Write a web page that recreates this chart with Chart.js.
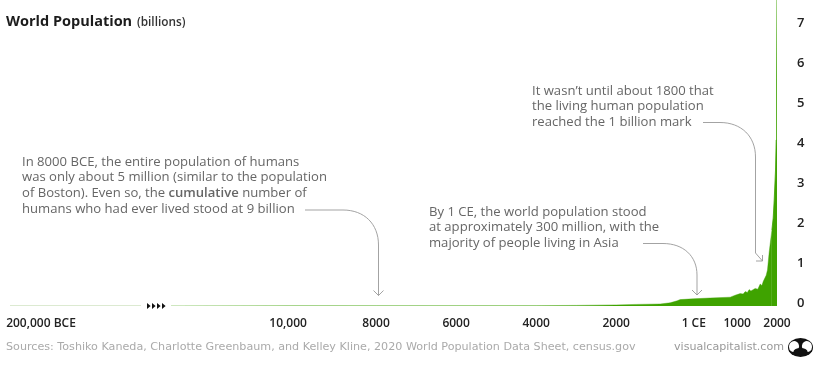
<!DOCTYPE html>
<html>
<head>
<meta charset="utf-8">
<title>World Population</title>
<script src="https://cdn.jsdelivr.net/npm/chart.js@4"></script>
<style>
  body { margin: 0; background: #fff; }
  canvas { display: block; }
</style>
</head>
<body>
<canvas id="chart" width="820" height="373"></canvas>
<script>
// x axis is plain years, but the part left of the arrows is squeezed (broken axis)
const earlyYears = [-17150, -13875];
const earlyValues = [0.002, 0.002];

const years = [-13125, -10000, -8000, -6000, -4000, -3000, -2000, -1500, -900, -650, -475, -400, -75, 350, 850, 975, 1100, 1175, 1225, 1280, 1325, 1368, 1475, 1540, 1600, 1642, 1675, 1750, 1782, 1825, 1892, 1925, 1950, 1983, 2000, 2010, 2020];
const values = [0.003, 0.004, 0.005, 0.007, 0.009, 0.015, 0.027, 0.04, 0.05, 0.08, 0.13, 0.16, 0.18, 0.2, 0.22, 0.27, 0.31, 0.3, 0.36, 0.34, 0.41, 0.375, 0.44, 0.42, 0.55, 0.51, 0.61, 0.77, 0.9, 1.35, 1.9, 2.2, 2.65, 3.4, 4.15, 5.6, 7.8];

const tickYears = [-16375, -10200, -8000, -6000, -4000, -2000, -60, 1025, 2020];
const tickLabels = ['200,000 BCE', '10,000', '8000', '6000', '4000', '2000', '1 CE', '1000', '2000'];
const valueTicks = [0, 1, 2, 3, 4, 5, 6, 7];

const green = '#3fa300';
const noteFont = '13.1px "Open Sans"';
const noteBold = '600 13.1px "Open Sans"';

const notes = [
    { x: 22, y: 162, gap: 15.6, lines: ['In 8000 BCE, the entire population of humans', 'was only about 5 million (similar to the population', 'of Boston). Even so, the *cumulative* number of', 'humans who had ever lived stood at 9 billion'] },
    { x: 429, y: 212, gap: 15.6, lines: ['By 1 CE, the world population stood', 'at approximately 300 million, with the', 'majority of people living in Asia'] },
    { x: 532, y: 91, gap: 15.6, lines: ['It wasn\u2019t until about 1800 that', 'the living human population', 'reached the 1 billion mark'] }
];

function writeLine(ctx, text, x, y) {
    text.split('*').forEach((part, i) => {
        ctx.font = i % 2 ? noteBold : noteFont;
        ctx.fillText(part, x, y);
        x += ctx.measureText(part).width;
    });
}

function curvedArrow(ctx, sx, sy, bendX, tx, bendY, ty) {
    // horizontal run, quarter bend, then straight down
    ctx.beginPath();
    ctx.moveTo(sx, sy);
    ctx.lineTo(bendX, sy);
    ctx.bezierCurveTo(bendX + (tx - bendX) * 0.6, sy, tx, sy + (bendY - sy) * 0.4, tx, bendY);
    ctx.lineTo(tx, ty);
    ctx.stroke();
}

const extras = {
    id: 'extras',
    afterDraw(chart) {
        const ctx = chart.ctx;
        ctx.save();

        // title
        ctx.textBaseline = 'middle';
        ctx.fillStyle = '#1c1c1c';
        ctx.font = '700 14.5px "Open Sans"';
        ctx.fillText('World Population', 6, 22);
        ctx.fillStyle = '#333';
        ctx.font = '600 11.8px "Open Sans"';
        ctx.fillText('(billions)', 137, 23);

        // notes
        ctx.fillStyle = '#666';
        notes.forEach(n => n.lines.forEach((line, i) => writeLine(ctx, line, n.x, n.y + i * n.gap)));

        // arrows
        ctx.strokeStyle = '#999';
        ctx.lineWidth = 0.9;
        curvedArrow(ctx, 305, 210, 343, 378.5, 245, 295.5);
        ctx.beginPath(); ctx.moveTo(373.5, 290.5); ctx.lineTo(378.5, 295.5); ctx.lineTo(383.5, 290.5); ctx.stroke();

        curvedArrow(ctx, 643, 243.5, 663, 697, 275, 295);
        ctx.beginPath(); ctx.moveTo(692, 290); ctx.lineTo(697, 295); ctx.lineTo(702, 290); ctx.stroke();

        curvedArrow(ctx, 703, 122.5, 720, 755.5, 157, 253);
        ctx.beginPath(); ctx.moveTo(755.5, 253); ctx.lineTo(762.5, 261); ctx.stroke();
        ctx.beginPath(); ctx.moveTo(762.5, 255); ctx.lineTo(762.5, 261); ctx.lineTo(756, 261); ctx.stroke();

        // axis break
        ctx.fillStyle = '#111';
        [147, 152, 157, 162].forEach(x => {
            ctx.beginPath();
            ctx.moveTo(x, 303);
            ctx.lineTo(x + 3.6, 306);
            ctx.lineTo(x, 309);
            ctx.closePath();
            ctx.fill();
        });

        // footer
        ctx.fillStyle = '#aaa';
        ctx.font = '11.15px "DejaVu Sans"';
        ctx.fillText('Sources: Toshiko Kaneda, Charlotte Greenbaum, and Kelley Kline, 2020 World Population Data Sheet, census.gov', 6, 347);
        ctx.fillStyle = '#999';
        ctx.font = '11.1px "DejaVu Sans"';
        ctx.fillText('visualcapitalist.com', 674, 347);

        // logo
        ctx.fillStyle = '#111';
        ctx.beginPath(); ctx.ellipse(800.5, 347.5, 12.5, 9.5, 0, 0, Math.PI * 2); ctx.fill();
        ctx.fillStyle = '#fff';
        ctx.beginPath(); ctx.ellipse(794, 346.5, 5, 5.5, 0.3, 0, Math.PI * 2); ctx.fill();
        ctx.beginPath(); ctx.ellipse(807, 346.5, 5, 5.5, -0.3, 0, Math.PI * 2); ctx.fill();
        ctx.fillStyle = '#111';
        ctx.beginPath(); ctx.ellipse(800.5, 351.5, 7, 3.5, 0, 0, Math.PI * 2); ctx.fill();

        ctx.restore();
    }
};

new Chart(document.getElementById('chart'), {
    type: 'line',
    data: {
        datasets: [
            {
                data: earlyYears.map((y, i) => ({ x: y, y: earlyValues[i] })),
                borderColor: '#c5dbb2',
                borderWidth: 1,
                pointRadius: 0,
                fill: false
            },
            {
                data: years.map((y, i) => ({ x: y, y: values[i] })),
                backgroundColor: green,
                borderWidth: 1,
                pointRadius: 0,
                tension: 0,
                fill: 'origin',
                // flat part reads pale, the steep end reads as solid green
                segment: {
                    borderColor: c => c.p1.parsed.x > 1900 ? 'rgba(63, 163, 0, 0.8)' : 'rgba(63, 163, 0, 0.4)'
                }
            }
        ]
    },
    options: {
        responsive: false,
        animation: false,
        layout: { padding: { left: 10, top: 0, right: 0, bottom: 0 } },
        plugins: { legend: { display: false }, title: { display: false }, tooltip: { enabled: false } },
        scales: {
            x: {
                type: 'linear',
                min: -17150,
                max: 2020,
                grid: { display: false },
                border: { display: false },
                afterBuildTicks: scale => { scale.ticks = tickYears.map(v => ({ value: v })); },
                afterFit: scale => { scale.height = 67; scale.paddingLeft = 0; scale.paddingRight = 0; },
                ticks: {
                    autoSkip: false,
                    maxRotation: 0,
                    padding: 2,
                    color: '#222',
                    font: { family: 'Open Sans', size: 12, weight: '600' },
                    callback: (v, i) => tickLabels[i]
                }
            },
            y: {
                position: 'right',
                min: 0,
                max: 7.65,
                grid: { display: false },
                border: { display: false },
                afterBuildTicks: scale => { scale.ticks = valueTicks.map(v => ({ value: v })); },
                afterFit: scale => { scale.width = 43; scale.paddingTop = 0; scale.paddingBottom = 0; },
                ticks: {
                    padding: 12,
                    labelOffset: -3,
                    color: '#222',
                    font: { family: 'Open Sans', size: 13, weight: '600' }
                }
            }
        }
    },
    plugins: [extras]
});
</script>
</body>
</html>
